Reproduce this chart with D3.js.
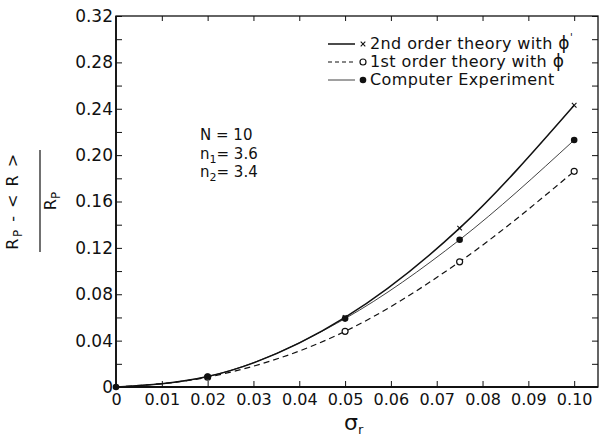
<!DOCTYPE html>
<html>
<head>
<meta charset="utf-8">
<script src="https://cdn.jsdelivr.net/npm/d3@7"></script>
<style>
  body { margin: 0; background: #fff; }
  svg { display: block; }
  text { font-family: "DejaVu Sans", sans-serif; fill: #111; }
  .axis path, .axis line { stroke: #111; }
</style>
</head>
<body>
<script>
/* global d3 */

var width = 614;
var height = 437;

// data
var sigma = [0, 0.02, 0.05, 0.075, 0.10];
var secondOrder = [0, 0.009, 0.060, 0.137, 0.243];
var firstOrder = [0, 0.0085, 0.048, 0.108, 0.186];
var experiment = [0, 0.009, 0.059, 0.127, 0.213];

var xTicks = [0, 0.01, 0.02, 0.03, 0.04, 0.05, 0.06, 0.07, 0.08, 0.09, 0.10];
var xTickLabels = ["0", "0.01", "0.02", "0.03", "0.04", "0.05", "0.06", "0.07", "0.08", "0.09", "0.10"];
var yTicks = [0, 0.02, 0.04, 0.06, 0.08, 0.10, 0.12, 0.14, 0.16, 0.18, 0.20, 0.22, 0.24, 0.26, 0.28, 0.30, 0.32];
var yTickLabels = ["0", "", "0.04", "", "0.08", "", "0.12", "", "0.16", "", "0.20", "", "0.24", "", "0.28", "", "0.32"];

var legendLabels = ["2nd order theory with ", "1st order theory with ", "Computer  Experiment"];
var params = [["N", "", " = 10"], ["n", "1", "= 3.6"], ["n", "2", "= 3.4"]];

var margin = {top: 16, right: 16, bottom: 50, left: 116};

var svg = d3.select("body")
        .append("svg")
        .attr("width", width)
        .attr("height", height);

var x = d3.scaleLinear().domain([0, 0.1052]).range([margin.left, width - margin.right]);
var y = d3.scaleLinear().domain([0, 0.32]).range([height - margin.bottom, margin.top]);

// frame
svg.append("rect")
        .attr("x", x(0))
        .attr("y", y(0.32))
        .attr("width", x.range()[1] - x(0))
        .attr("height", y(0) - y(0.32))
        .attr("fill", "none")
        .attr("stroke", "#111")
        .attr("stroke-width", 1.3);

// thicker bottom / left axis lines
svg.append("line")
        .attr("x1", x(0)).attr("x2", x.range()[1])
        .attr("y1", y(0)).attr("y2", y(0))
        .attr("stroke", "#111").attr("stroke-width", 2.2);
svg.append("line")
        .attr("x1", x(0)).attr("x2", x(0))
        .attr("y1", y(0)).attr("y2", y(0.32))
        .attr("stroke", "#111").attr("stroke-width", 1.8);

var xAxis = d3.axisBottom(x)
        .tickValues(xTicks)
        .tickFormat(function (d, i) { return xTickLabels[i]; })
        .tickSizeInner(-6).tickSizeOuter(0).tickPadding(7);

svg.append("g")
        .classed("axis", true)
        .attr("transform", "translate(0," + y(0) + ")")
        .call(xAxis)
        .call(function (g) { g.select(".domain").remove(); })
        .selectAll("text")
        .style("font-size", "16px")
        .style("font-family", "DejaVu Sans");

svg.append("g")
        .classed("axis", true)
        .attr("transform", "translate(0," + y(0.32) + ")")
        .call(d3.axisTop(x).tickValues(xTicks.slice(1)).tickFormat("").tickSizeInner(-5).tickSizeOuter(0))
        .call(function (g) { g.select(".domain").remove(); });

var yAxis = d3.axisLeft(y)
        .tickValues(yTicks)
        .tickFormat(function (d, i) { return yTickLabels[i]; })
        .tickSizeInner(-6).tickSizeOuter(0).tickPadding(3);

svg.append("g")
        .classed("axis", true)
        .attr("transform", "translate(" + x(0) + ",0)")
        .call(yAxis)
        .call(function (g) { g.select(".domain").remove(); })
        .selectAll("text")
        .style("font-size", "17px")
        .style("font-family", "DejaVu Sans");

svg.append("g")
        .classed("axis", true)
        .attr("transform", "translate(" + x.range()[1] + ",0)")
        .call(d3.axisRight(y).tickValues(yTicks.slice(1)).tickFormat("").tickSizeInner(-6).tickSizeOuter(0))
        .call(function (g) { g.select(".domain").remove(); });

// curves
var series = [
    {values: secondOrder, width: 1.5, dash: null, marker: "cross"},
    {values: firstOrder, width: 1.2, dash: "6,4", marker: "open"},
    {values: experiment, width: 0.8, dash: null, marker: "dot"}
];

var line = d3.line()
        .curve(d3.curveMonotoneX)
        .x(function (d) { return x(d[0]); })
        .y(function (d) { return y(d[1]); });

series.forEach(function (s) {
    var pts = sigma.map(function (v, i) { return [v, s.values[i]]; });
    svg.append("path")
            .datum(pts)
            .attr("d", line)
            .attr("fill", "none")
            .attr("stroke", "#111")
            .attr("stroke-width", s.width)
            .attr("stroke-dasharray", s.dash);
});

function drawMarker(g, type, cx, cy) {
    if (type === "cross") {
        g.append("path")
                .attr("d", "M" + (cx - 2.3) + "," + (cy - 2.3) + "L" + (cx + 2.3) + "," + (cy + 2.3) +
                        "M" + (cx - 2.3) + "," + (cy + 2.3) + "L" + (cx + 2.3) + "," + (cy - 2.3))
                .attr("stroke", "#111").attr("stroke-width", 1.1);
    } else if (type === "open") {
        g.append("circle").attr("cx", cx).attr("cy", cy).attr("r", 3)
                .attr("fill", "#fff").attr("stroke", "#111").attr("stroke-width", 1.2);
    } else {
        g.append("circle").attr("cx", cx).attr("cy", cy).attr("r", 3.3)
                .attr("fill", "#111");
    }
}

var markers = svg.append("g");
series.forEach(function (s) {
    sigma.forEach(function (v, i) {
        if (i === 0 && s.marker !== "dot")
            return;
        drawMarker(markers, s.marker, x(v), y(s.values[i]));
    });
});

// legend
var legend = svg.append("g");
legendLabels.forEach(function (lab, i) {
    var by = 49 + i * 18;
    var s = series[i];
    legend.append("line")
            .attr("x1", 328).attr("x2", 355)
            .attr("y1", by - 5).attr("y2", by - 5)
            .attr("stroke", "#111")
            .attr("stroke-width", s.width)
            .attr("stroke-dasharray", s.dash ? "4,3" : null);
    drawMarker(legend, s.marker, 363, by - 5);
    var t = legend.append("text")
            .attr("x", 370).attr("y", by)
            .style("font-size", "16px")
            .style("letter-spacing", "0.4px")
            .text(lab);
    if (i === 0) {
        t.append("tspan").style("font-size", "17px").text("\u03D5");
        t.append("tspan").attr("dy", -8).style("font-size", "10px").text("'");
    } else if (i === 1) {
        t.append("tspan").style("font-size", "17px").text("\u03D5");
    }
});

// parameters
params.forEach(function (p, i) {
    var t = svg.append("text")
            .attr("x", 200).attr("y", 140 + i * 18.5)
            .style("font-size", "15px");
    t.append("tspan").text(p[0]);
    if (p[1]) {
        t.append("tspan").attr("dy", 4).style("font-size", "11px").text(p[1]);
        t.append("tspan").attr("dy", -4).text(p[2]);
    } else {
        t.append("tspan").text(p[2]);
    }
});

// x label
var xl = svg.append("text")
        .attr("x", 344).attr("y", 430)
        .style("font-size", "22px")
        .text("\u03C3");
xl.append("tspan").attr("dy", 4).style("font-size", "13px").text("r");

// y label (fraction, rotated)
var yl = svg.append("g").attr("transform", "translate(0,201) rotate(-90)");
var num = yl.append("text")
        .attr("x", 0).attr("y", 18)
        .attr("text-anchor", "middle")
        .style("font-size", "16px")
        .style("letter-spacing", "1.5px");
num.append("tspan").text("R");
num.append("tspan").attr("dy", 4).style("font-size", "12px").text("P");
num.append("tspan").attr("dy", -4).text(" - < R >");
yl.append("line")
        .attr("x1", -51).attr("x2", 51)
        .attr("y1", 40).attr("y2", 40)
        .attr("stroke", "#111").attr("stroke-width", 1.2);
var den = yl.append("text")
        .attr("x", 0).attr("y", 56)
        .attr("text-anchor", "middle")
        .style("font-size", "16px");
den.append("tspan").text("R");
den.append("tspan").attr("dy", 4).style("font-size", "12px").text("P");
</script>
</body>
</html>
